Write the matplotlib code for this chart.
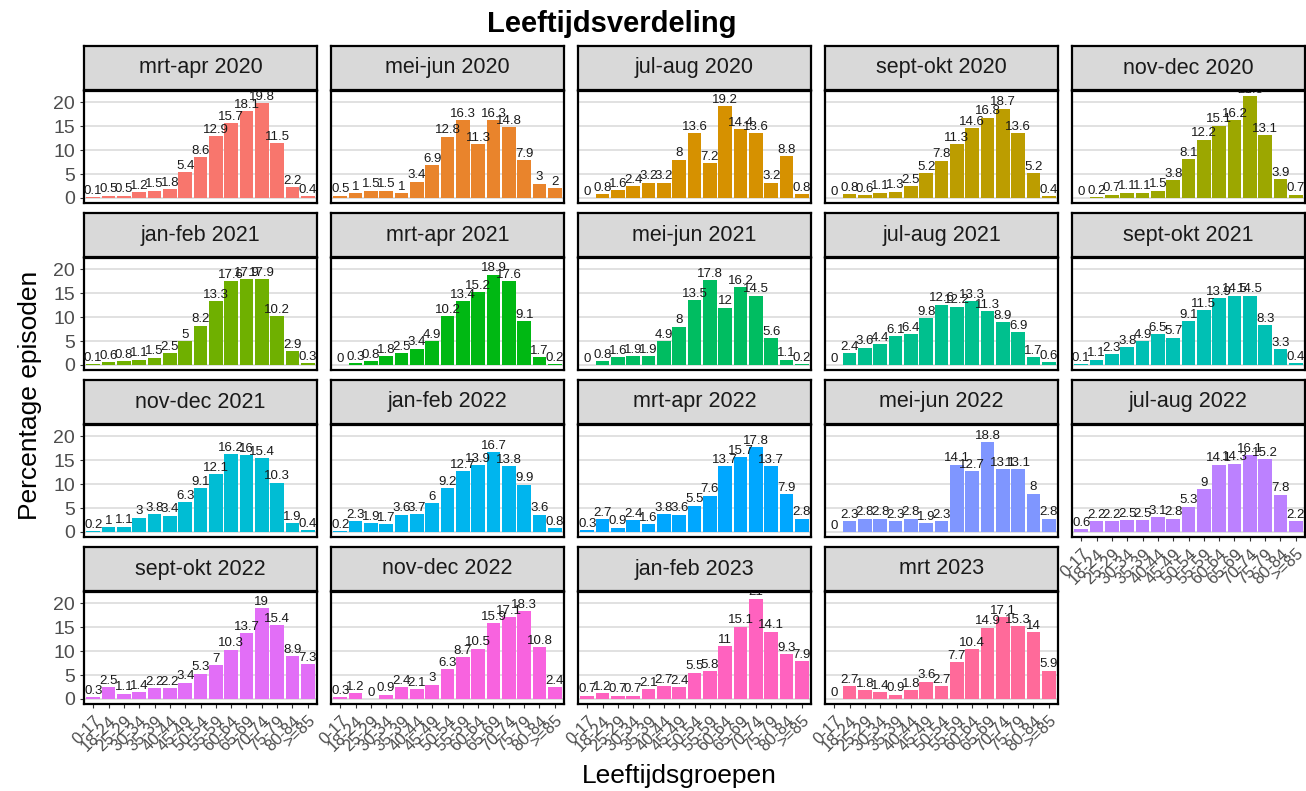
import numpy as np
import matplotlib
matplotlib.use('Agg')
import matplotlib.pyplot as plt

plt.rcParams['font.family'] = ['Liberation Sans', 'DejaVu Sans']

age_groups = ['0-17', '18-24', '25-29', '30-34', '35-39', '40-44', '45-49', '50-54',
              '55-59', '60-64', '65-69', '70-74', '75-79', '80-84', '>=85']

periods = ['mrt-apr 2020', 'mei-jun 2020', 'jul-aug 2020', 'sept-okt 2020', 'nov-dec 2020',
           'jan-feb 2021', 'mrt-apr 2021', 'mei-jun 2021', 'jul-aug 2021', 'sept-okt 2021',
           'nov-dec 2021', 'jan-feb 2022', 'mrt-apr 2022', 'mei-jun 2022', 'jul-aug 2022',
           'sept-okt 2022', 'nov-dec 2022', 'jan-feb 2023', 'mrt 2023']

mrt_apr_2020 = [0.1, 0.5, 0.5, 1.2, 1.5, 1.8, 5.4, 8.6, 12.9, 15.7, 18.1, 19.8, 11.5, 2.2, 0.4]
mei_jun_2020 = [0.5, 1, 1.5, 1.5, 1, 3.4, 6.9, 12.8, 16.3, 11.3, 16.3, 14.8, 7.9, 3, 2]
jul_aug_2020 = [0, 0.8, 1.6, 2.4, 3.2, 3.2, 8, 13.6, 7.2, 19.2, 14.4, 13.6, 3.2, 8.8, 0.8]
sept_okt_2020 = [0, 0.8, 0.6, 1.1, 1.3, 2.5, 5.2, 7.8, 11.3, 14.6, 16.8, 18.7, 13.6, 5.2, 0.4]
nov_dec_2020 = [0, 0.2, 0.7, 1.1, 1.1, 1.5, 3.8, 8.1, 12.2, 15.1, 16.2, 21.3, 13.1, 3.9, 0.7]
jan_feb_2021 = [0.1, 0.6, 0.8, 1.1, 1.5, 2.5, 5, 8.2, 13.3, 17.6, 17.9, 17.9, 10.2, 2.9, 0.3]
mrt_apr_2021 = [0, 0.3, 0.8, 1.8, 2.5, 3.4, 4.9, 10.2, 13.4, 15.2, 18.9, 17.6, 9.1, 1.7, 0.2]
mei_jun_2021 = [0, 0.8, 1.6, 1.9, 1.9, 4.9, 8, 13.5, 17.8, 12, 16.2, 14.5, 5.6, 1.1, 0.2]
jul_aug_2021 = [0, 2.4, 3.6, 4.4, 6.1, 6.4, 9.8, 12.6, 12.2, 13.3, 11.3, 8.9, 6.9, 1.7, 0.6]
sept_okt_2021 = [0.1, 1.1, 2.3, 3.8, 4.9, 6.5, 5.7, 9.1, 11.5, 13.9, 14.5, 14.5, 8.3, 3.3, 0.4]
nov_dec_2021 = [0.2, 1, 1.1, 3, 3.8, 3.4, 6.3, 9.1, 12.1, 16.2, 16, 15.4, 10.3, 1.9, 0.4]
jan_feb_2022 = [0.2, 2.3, 1.9, 1.7, 3.6, 3.7, 6, 9.2, 12.7, 13.9, 16.7, 13.8, 9.9, 3.6, 0.8]
mrt_apr_2022 = [0.3, 2.7, 0.9, 2.4, 1.6, 3.8, 3.6, 5.5, 7.6, 13.7, 15.7, 17.8, 13.7, 7.9, 2.8]
mei_jun_2022 = [0, 2.3, 2.8, 2.8, 2.3, 2.8, 1.9, 2.3, 14.1, 12.7, 18.8, 13.1, 13.1, 8, 2.8]
jul_aug_2022 = [0.6, 2.2, 2.2, 2.5, 2.5, 3.1, 2.8, 5.3, 9, 14.1, 14.3, 16.1, 15.2, 7.8, 2.2]
sept_okt_2022 = [0.3, 2.5, 1.1, 1.4, 2.2, 2.2, 3.4, 5.3, 7, 10.3, 13.7, 19, 15.4, 8.9, 7.3]
nov_dec_2022 = [0.3, 1.2, 0, 0.9, 2.4, 2.1, 3, 6.3, 8.7, 10.5, 15.9, 17.1, 18.3, 10.8, 2.4]
jan_feb_2023 = [0.7, 1.2, 0.7, 0.7, 2.1, 2.7, 2.4, 5.5, 5.8, 11, 15.1, 21, 14.1, 9.3, 7.9]
mrt_2023 = [0, 2.7, 1.8, 1.4, 0.9, 1.8, 3.6, 2.7, 7.7, 10.4, 14.9, 17.1, 15.3, 14, 5.9]

series = [mrt_apr_2020, mei_jun_2020, jul_aug_2020, sept_okt_2020, nov_dec_2020,
          jan_feb_2021, mrt_apr_2021, mei_jun_2021, jul_aug_2021, sept_okt_2021,
          nov_dec_2021, jan_feb_2022, mrt_apr_2022, mei_jun_2022, jul_aug_2022,
          sept_okt_2022, nov_dec_2022, jan_feb_2023, mrt_2023]


def hcl_to_hex(h, c=100.0, l=65.0):
    # polar Luv -> sRGB, like R's hcl()
    xn, yn, zn = 95.047, 100.0, 108.883
    un = 4 * xn / (xn + 15 * yn + 3 * zn)
    vn = 9 * yn / (xn + 15 * yn + 3 * zn)
    u = c * np.cos(np.radians(h))
    v = c * np.sin(np.radians(h))
    Y = yn * (((l + 16) / 116) ** 3 if l > 8 else l / 903.3)
    up = u / (13 * l) + un
    vp = v / (13 * l) + vn
    X = Y * 9 * up / (4 * vp)
    Z = Y * (12 - 3 * up - 20 * vp) / (4 * vp)
    M = np.array([[3.240479, -1.537150, -0.498535],
                  [-0.969256, 1.875992, 0.041556],
                  [0.055648, -0.204043, 1.057311]])
    rgb = M @ (np.array([X, Y, Z]) / 100.0)
    rgb = np.where(rgb <= 0.0031308, 12.92 * rgb, 1.055 * np.power(np.clip(rgb, 0, None), 1 / 2.4) - 0.055)
    rgb = np.clip(rgb, 0, 1)
    return '#%02X%02X%02X' % tuple(int(round(x * 255)) for x in rgb)


n = len(periods)
hues = np.linspace(15, 375 - 360 / n, n)
colors = [hcl_to_hex(h) for h in hues]

W, H = 1306, 791
fig = plt.figure(figsize=(W / 100, H / 100), dpi=100)


def frac(x, y, w, h):
    return [x / W, 1 - (y + h) / H, w / W, h / H]


lefts = [84, 331, 578, 825, 1072]
pw = 233
strip_tops = [46, 213, 380, 547]
sh = 44
ph = 112

ymax_data = max(max(s) for s in series)
ylo, yhi = -0.05 * ymax_data, ymax_data * 1.05
x = np.arange(len(age_groups))

for i, (name, vals) in enumerate(zip(periods, series)):
    r, c = divmod(i, 5)
    left = lefts[c]
    st = strip_tops[r]
    # strip
    sax = fig.add_axes(frac(left, st, pw, sh))
    sax.set_facecolor('#D9D9D9')
    sax.set_xticks([]); sax.set_yticks([])
    for sp in sax.spines.values():
        sp.set_linewidth(1.6)
        sp.set_color('black')
    sax.text(0.5, 0.5, name, ha='center', va='center', fontsize=15.5, color='#1A1A1A',
             transform=sax.transAxes)
    # panel
    ax = fig.add_axes(frac(left, st + sh + 1, pw, ph))
    ax.bar(x, vals, width=0.9, color=colors[i], zorder=2)
    for xi, v in zip(x, vals):
        ax.text(xi, v + 0.05, f'{v:g}', ha='center', va='bottom', fontsize=9.5,
                color='#1A1A1A', zorder=3, clip_on=True)
    ax.set_xlim(-0.6, len(age_groups) - 0.4)
    ax.set_ylim(ylo, yhi)
    ax.set_yticks([0, 5, 10, 15, 20])
    ax.yaxis.grid(True, color='#D9D9D9', linewidth=1.1, zorder=0)
    ax.set_axisbelow(True)
    for sp in ax.spines.values():
        sp.set_linewidth(1.6)
        sp.set_color('black')
    ax.tick_params(colors='#333333', length=3, width=0.8, labelcolor='#4D4D4D')
    ax.set_xticks(x)
    if c == 0:
        ax.set_yticklabels(['0', '5', '10', '15', '20'], fontsize=14)
    else:
        ax.tick_params(axis='y', length=0)
        ax.set_yticklabels([])
    bottom = (i + 5 >= n)
    if bottom:
        ax.set_xticklabels(age_groups, rotation=45, ha='right', rotation_mode='anchor',
                           fontsize=12)
    else:
        ax.tick_params(axis='x', length=0)
        ax.set_xticklabels([])

fig.text(612 / W, 1 - 24 / H, 'Leeftijdsverdeling', ha='center', va='center',
         fontsize=21, fontweight='bold')
fig.text(30 / W, 1 - 395 / H, 'Percentage episoden', ha='center', va='center',
         rotation=90, fontsize=19)
fig.text(679 / W, 1 - 776 / H, 'Leeftijdsgroepen', ha='center', va='center', fontsize=19)

fig.savefig('out.png', dpi=100)
